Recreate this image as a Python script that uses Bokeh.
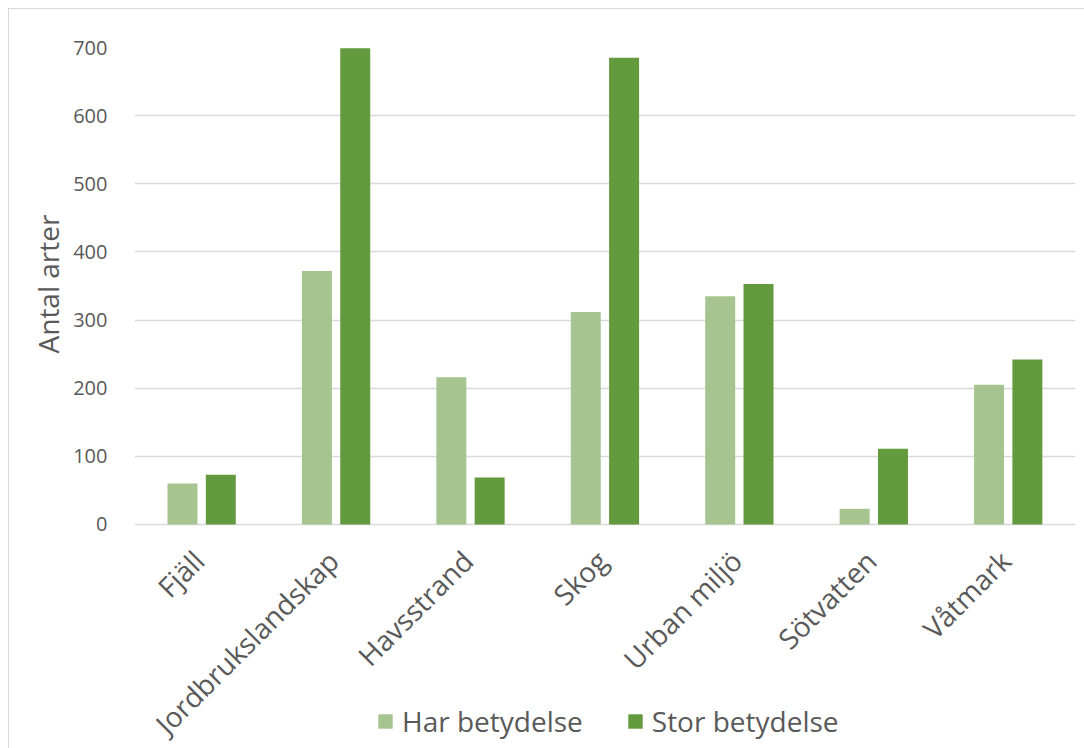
import math
from bokeh.plotting import figure
from bokeh.models import ColumnDataSource, FactorRange, Range1d, Legend, LegendItem, FixedTicker, Title
from bokeh.transform import dodge
from bokeh.core.properties import value
from bokeh.embed import file_html
from bokeh.resources import INLINE

categories = ["Fjäll", "Jordbrukslandskap", "Havsstrand", "Skog",
              "Urban miljö", "Sötvatten", "Våtmark"]
har_betydelse = [60, 372, 216, 312, 335, 23, 205]
stor_betydelse = [73, 699, 69, 685, 353, 111, 242]
y_ticks = [0, 100, 200, 300, 400, 500, 600, 700]
series_names = ["Har betydelse", "Stor betydelse"]
y_title = "Antal arter"

LIGHT = "#A5C490"
DARK = "#639A3E"
TEXT = "#595959"
GRID = "#D9D9D9"
FONT = "Open Sans"

src = ColumnDataSource(dict(cat=categories, har=har_betydelse, stor=stor_betydelse))

# value axis 0..700; the frame extends below 0 to hold category labels and legend
p = figure(x_range=FactorRange(*categories), y_range=Range1d(-330.2, 700),
           width=1076, height=740, margin=(8, 0, 0, 8),
           output_backend="svg", toolbar_location=None, x_axis_location=None,
           min_border_left=125, min_border_right=10,
           min_border_top=38, min_border_bottom=0)
p.styles = {"border-left": "1px solid #D9D9D9", "border-top": "1px solid #D9D9D9"}

r1 = p.vbar(x=dodge("cat", -0.143, range=p.x_range), top="har", width=0.223,
            source=src, fill_color=LIGHT, line_color=None)
r2 = p.vbar(x=dodge("cat", 0.142, range=p.x_range), top="stor", width=0.223,
            source=src, fill_color=DARK, line_color=None)

# category labels under the baseline, rotated 45 degrees
p.text(x="cat", y=0, text="cat", source=src, angle=math.pi / 4,
       text_align="right", text_baseline="middle", x_offset=-3, y_offset=31,
       text_font=value(FONT), text_font_size="28px", text_color=TEXT)

p.outline_line_color = None
p.xgrid.grid_line_color = None
p.ygrid.grid_line_color = GRID
p.ygrid.grid_line_width = 1.5
p.yaxis.ticker = FixedTicker(ticks=y_ticks)

ax = p.yaxis[0]
ax.major_tick_line_color = None
ax.minor_tick_line_color = None
ax.major_tick_out = 0
ax.major_tick_in = 0
ax.axis_line_color = None
ax.major_label_text_color = TEXT
ax.major_label_text_font = FONT
ax.major_label_text_font_size = "20px"
ax.major_label_standoff = 27

ytitle = Title(text=y_title, align="left", offset=396, standoff=8,
               text_font=FONT, text_font_size="28px", text_font_style="normal",
               text_color=TEXT)
p.add_layout(ytitle, "left")

legend = Legend(items=[LegendItem(label=series_names[0], renderers=[r1]),
                       LegendItem(label=series_names[1], renderers=[r2])],
                orientation="horizontal", location=(242, 9),
                glyph_width=18, glyph_height=18, label_standoff=8, spacing=43,
                padding=0, margin=0, border_line_color=None,
                background_fill_alpha=0,
                label_text_font=FONT, label_text_font_size="28px",
                label_text_color=TEXT)
p.add_layout(legend, "center")

open("out.html", "w").write(file_html(p, INLINE))
